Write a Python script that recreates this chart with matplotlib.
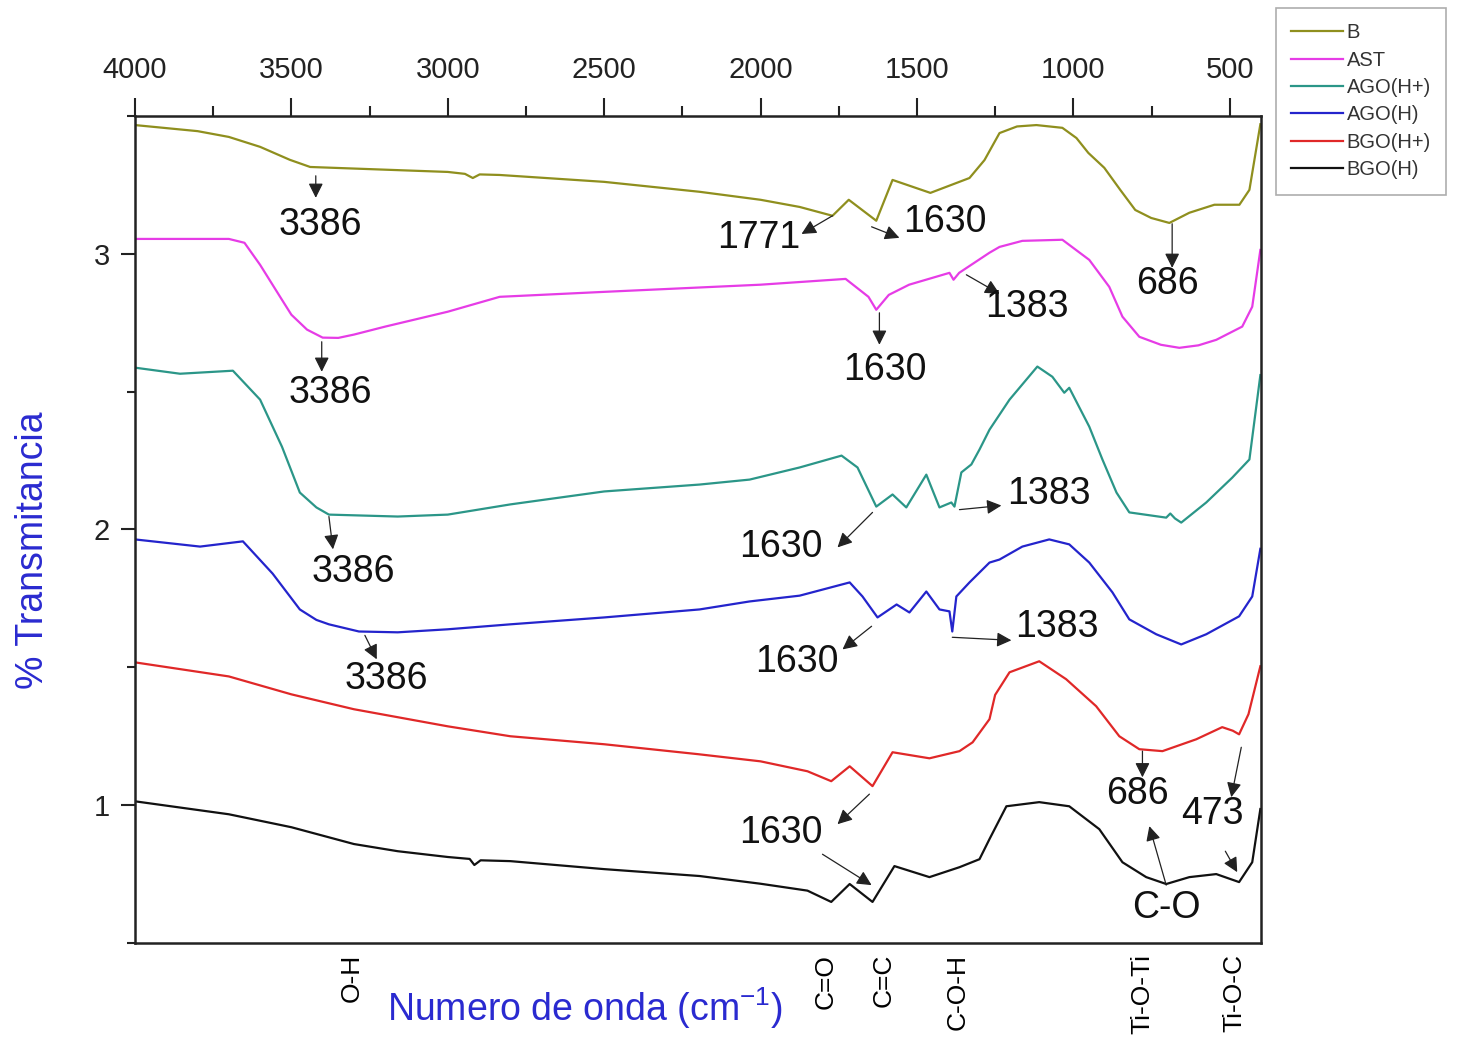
import matplotlib
matplotlib.use('Agg')
import matplotlib.pyplot as plt
from matplotlib.ticker import MultipleLocator

plt.rcParams['font.family'] = ['Liberation Sans', 'DejaVu Sans']
plt.rcParams['mathtext.fontset'] = 'custom'
plt.rcParams['mathtext.rm'] = 'Liberation Sans'
plt.rcParams['mathtext.it'] = 'Liberation Sans'

# ---- data (wavenumber cm-1, transmittance offset units) ----
b_wn = [4000, 3800, 3700, 3600, 3505, 3440, 3000, 2945, 2920, 2898, 2834, 2500, 2195, 2000, 1875,
        1770, 1718, 1630, 1578, 1457, 1332, 1284, 1236, 1180, 1118, 1035, 990, 952, 901, 850, 802,
        751, 693, 629, 549, 469, 437, 402]
b_t = [3.467, 3.445, 3.424, 3.388, 3.341, 3.315, 3.297, 3.290, 3.275, 3.288, 3.286, 3.261, 3.225, 3.196, 3.170,
       3.138, 3.196, 3.120, 3.268, 3.221, 3.275, 3.340, 3.438, 3.462, 3.467, 3.457, 3.420, 3.366, 3.312, 3.232, 3.159,
       3.130, 3.112, 3.149, 3.178, 3.178, 3.232, 3.470]

ast_wn = [4000, 3700, 3650, 3600, 3530, 3500, 3450, 3400, 3350, 3300, 3200, 3000, 2834, 2500, 2000, 1728,
          1655, 1630, 1590, 1525, 1396, 1383, 1365, 1268, 1236, 1163, 1035, 949, 885, 843,
          789, 720, 661, 600, 543, 460, 428, 402]
ast_t = [3.054, 3.054, 3.040, 2.960, 2.833, 2.779, 2.725, 2.696, 2.695, 2.707, 2.736, 2.790, 2.844, 2.862, 2.888, 2.909,
         2.844, 2.797, 2.851, 2.888, 2.931, 2.906, 2.931, 3.004, 3.025, 3.047, 3.051, 2.978, 2.880, 2.772,
         2.699, 2.670, 2.659, 2.668, 2.688, 2.736, 2.808, 3.014]

agoh_plus_wn = [4000, 3856, 3687, 3600, 3530, 3473, 3420, 3380, 3160, 3000, 2800, 2500, 2195, 2035, 1875, 1741,
                1690, 1630, 1578, 1534, 1470, 1428, 1390, 1380, 1358, 1326, 1300, 1268, 1204, 1115,
                1067, 1029, 1013, 949, 907, 862, 821, 703, 690, 675, 655, 575, 492, 437, 402]
agoh_plus_t = [2.587, 2.565, 2.576, 2.471, 2.300, 2.134, 2.080, 2.054, 2.047, 2.054, 2.091, 2.138, 2.163, 2.181, 2.225, 2.268,
               2.225, 2.083, 2.127, 2.080, 2.199, 2.080, 2.098, 2.083, 2.207, 2.236, 2.290, 2.362, 2.471, 2.591,
               2.554, 2.496, 2.514, 2.373, 2.254, 2.134, 2.062, 2.043, 2.058, 2.040, 2.025, 2.098, 2.188, 2.254, 2.560]

agoh_wn = [4000, 3792, 3655, 3560, 3473, 3420, 3380, 3284, 3160, 3000, 2800, 2500, 2195, 2035, 1875, 1715,
           1674, 1626, 1565, 1524, 1470, 1428, 1396, 1387, 1374, 1332, 1268, 1236, 1163, 1077,
           1013, 949, 875, 821, 735, 655, 575, 470, 428, 402]
agoh_t = [1.964, 1.938, 1.957, 1.840, 1.710, 1.672, 1.656, 1.630, 1.627, 1.638, 1.656, 1.681, 1.710, 1.739, 1.760, 1.808,
          1.757, 1.681, 1.728, 1.699, 1.775, 1.710, 1.703, 1.630, 1.757, 1.808, 1.880, 1.891, 1.938, 1.964,
          1.946, 1.880, 1.772, 1.674, 1.620, 1.583, 1.620, 1.685, 1.757, 1.930]

bgoh_plus_wn = [4000, 3700, 3500, 3300, 3000, 2800, 2500, 2200, 2000, 1850, 1774, 1715, 1642, 1578,
                1460, 1364, 1322, 1268, 1250, 1204, 1109, 1023, 927, 853, 789, 715, 607, 524,
                490, 470, 440, 402]
bgoh_plus_t = [1.518, 1.467, 1.402, 1.348, 1.286, 1.250, 1.221, 1.185, 1.159, 1.123, 1.087, 1.141, 1.069, 1.192,
               1.170, 1.196, 1.228, 1.312, 1.400, 1.482, 1.522, 1.457, 1.359, 1.250, 1.203, 1.196, 1.239, 1.283,
               1.270, 1.257, 1.330, 1.504]

bgoh_wn = [4000, 3700, 3500, 3300, 3160, 3000, 2930, 2915, 2895, 2800, 2500, 2195, 2000, 1850,
           1774, 1715, 1642, 1572, 1460, 1364, 1300, 1268, 1214, 1109, 1013, 917, 843, 767,
           703, 629, 543, 470, 428, 402]
bgoh_t = [1.014, 0.967, 0.920, 0.859, 0.833, 0.812, 0.805, 0.783, 0.800, 0.797, 0.768, 0.743, 0.715, 0.690,
          0.649, 0.714, 0.649, 0.779, 0.739, 0.775, 0.804, 0.877, 0.996, 1.011, 0.996, 0.913, 0.793, 0.739,
          0.714, 0.739, 0.750, 0.721, 0.793, 0.986]

series_names = ['B', 'AST', 'AGO(H+)', 'AGO(H)', 'BGO(H+)', 'BGO(H)']
series_colors = ['#8f8f1e', '#e63ce6', '#2b9688', '#2424cc', '#e02828', '#111111']

band_pos = [3307, 1792, 1607, 1371, 779, 485]
band_labels = ['O-H', 'C=O', 'C=C', 'C-O-H', 'Ti-O-Ti', 'Ti-O-C']

# peak labels: text, text position, arrow tail, arrow head (data coords)
peak_notes = [
    ('3386', (3409, 3.105), (3422, 3.283), (3422, 3.203)),
    ('1771', (2006, 3.058), (1770, 3.138), (1869, 3.072)),
    ('1630', (1412, 3.116), (1645, 3.098), (1556, 3.058)),
    ('686', (700, 2.891), (684, 3.109), (684, 2.949)),
    ('3386', (3377, 2.496), (3403, 2.681), (3403, 2.572)),
    ('1630', (1604, 2.580), (1620, 2.786), (1620, 2.670)),
    ('1383', (1150, 2.808), (1342, 2.924), (1236, 2.855)),
    ('3386', (3303, 1.844), (3380, 2.047), (3367, 1.928)),
    ('1630', (1936, 1.935), (1642, 2.062), (1754, 1.935)),
    ('1383', (1077, 2.130), (1364, 2.072), (1230, 2.087)),
    ('3386', (3195, 1.457), (3265, 1.616), (3227, 1.529)),
    ('1630', (1885, 1.518), (1645, 1.649), (1738, 1.565)),
    ('1383', (1051, 1.645), (1387, 1.609), (1198, 1.598)),
    ('1630', (1936, 0.899), (1652, 1.040), (1754, 0.931)),
    ('', None, (1802, 0.822), (1645, 0.710)),
    ('686', (795, 1.040), (779, 1.196), (779, 1.101)),
    ('473', (556, 0.967), (463, 1.210), (495, 1.029)),
    ('C-O', (703, 0.627), (703, 0.710), (757, 0.924)),
    ('', None, (514, 0.833), (476, 0.757)),
]


def main():
    fig = plt.figure(figsize=(14.61, 10.42), dpi=100)
    ax = fig.add_axes([0.0924, 0.0950, 0.7707, 0.7937])

    all_wn = [b_wn, ast_wn, agoh_plus_wn, agoh_wn, bgoh_plus_wn, bgoh_wn]
    all_t = [b_t, ast_t, agoh_plus_t, agoh_t, bgoh_plus_t, bgoh_t]
    for wn, t, name, col in zip(all_wn, all_t, series_names, series_colors):
        ax.plot(wn, t, color=col, lw=1.6, label=name)

    ax.set_xlim(4000, 400)
    ax.set_ylim(0.5, 3.5)

    # top axis with wavenumber ticks
    ax.xaxis.tick_top()
    ax.xaxis.set_major_locator(MultipleLocator(500))
    ax.xaxis.set_minor_locator(MultipleLocator(250))
    ax.tick_params(axis='x', which='major', direction='out', length=13, width=1.5,
                   labelsize=21, pad=10, colors='#222222')
    ax.tick_params(axis='x', which='minor', direction='out', length=7, width=1.5, colors='#222222')

    ax.yaxis.set_major_locator(MultipleLocator(1))
    ax.yaxis.set_minor_locator(MultipleLocator(0.5))
    ax.tick_params(axis='y', which='major', direction='out', length=10, width=1.5,
                   labelsize=21, pad=8, colors='#222222')
    ax.tick_params(axis='y', which='minor', direction='out', length=6, width=1.5, colors='#222222')

    for s in ax.spines.values():
        s.set_linewidth(1.8)
        s.set_color('#222222')

    # functional group labels on the bottom
    sec = ax.secondary_xaxis('bottom')
    sec.set_xticks(band_pos, band_labels)
    sec.tick_params(axis='x', length=0, labelsize=19, pad=8, labelrotation=90)
    sec.spines['bottom'].set_visible(False)

    ax.text(0.40, -0.079, r'Numero de onda (cm$^{-1}$)', transform=ax.transAxes,
            fontsize=27, color='#2a2ad0', ha='center', va='center')
    ax.text(-0.0906, 0.475, '% Transmitancia', transform=ax.transAxes, rotation=90,
            fontsize=27, color='#2a2ad0', ha='center', va='center')

    for txt, pos, tail, head in peak_notes:
        ax.annotate('', xy=head, xytext=tail,
                    arrowprops=dict(arrowstyle='-|>', color='#222222', lw=0.9,
                                    mutation_scale=22, shrinkA=0, shrinkB=0))
        if txt:
            ax.text(pos[0], pos[1], txt, fontsize=27, ha='center', va='center', color='#111111')

    leg = fig.legend(loc='upper left', bbox_to_anchor=(1276 / 1461, 1 - 8 / 1042),
                     fontsize=14.5, frameon=True, fancybox=False, handlelength=2.6,
                     handletextpad=0.15, labelspacing=0.42, borderpad=0.75,
                     borderaxespad=0)
    leg.get_frame().set_edgecolor('#999999')
    leg.get_frame().set_linewidth(1.2)
    for t in leg.get_texts():
        t.set_color('#333333')

    fig.savefig('out.png', dpi=100)


if __name__ == '__main__':
    main()
